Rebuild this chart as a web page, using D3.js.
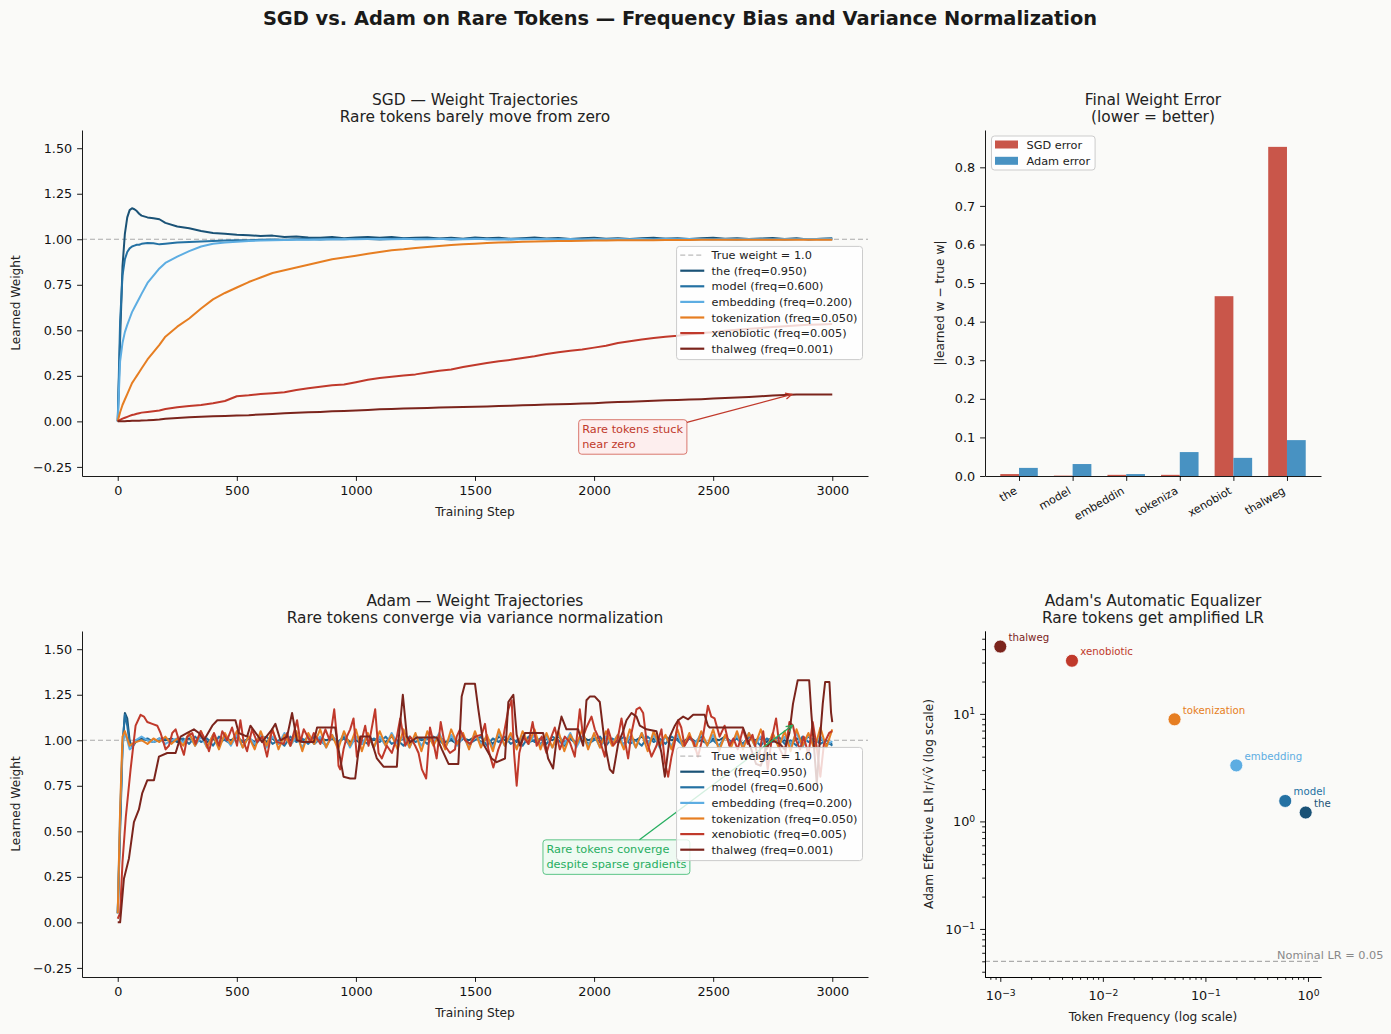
<!DOCTYPE html>
<html>
<head>
<meta charset="utf-8">
<script src="https://cdn.jsdelivr.net/npm/d3@7"></script>
<style>
  body { margin: 0; background: #fafaf8; }
  svg text { font-family: "DejaVu Sans", sans-serif; }
</style>
</head>
<body>
<svg id="chart" width="1391" height="1034"></svg>
<script>
// ---- data ----
var tokens = ["the", "model", "embedding", "tokenization", "xenobiotic", "thalweg"];
var freqs = [0.95, 0.6, 0.2, 0.05, 0.005, 0.001];
var tokenColors = ["#1a5276", "#2471a3", "#5dade2", "#e67e22", "#c0392b", "#7b241c"];

// SGD trajectories (sampled steps)
var sgdSteps = [0, 10, 20, 30, 40, 50, 60, 70, 80, 90, 100, 125, 150, 175].concat(d3.range(200, 3001, 50));
var sgdThe = [0, 0.45, 0.85, 1.03, 1.12, 1.16, 1.17, 1.165, 1.155, 1.14, 1.13, 1.12, 1.115, 1.11,
  1.090, 1.070, 1.060, 1.045, 1.035, 1.030, 1.025, 1.022, 1.018, 1.020,
  1.012, 1.015, 1.010, 1.008, 1.012, 1.005, 1.010, 1.013, 1.008, 1.012,
  1.005, 1.008, 1.010, 1.004, 1.008, 1.003, 1.010, 1.005, 1.008, 1.003,
  1.006, 1.010, 1.004, 1.007, 1.002, 1.006, 1.008, 1.003, 1.006, 1.001,
  1.005, 1.008, 1.003, 1.006, 1.002, 1.005, 1.008, 1.003, 1.006, 1.001,
  1.004, 1.007, 1.002, 1.005, 0.999, 1.003, 1.005];
var sgdModel = [0, 0.55, 0.80, 0.89, 0.93, 0.95, 0.96, 0.965, 0.97, 0.97, 0.975, 0.98, 0.978, 0.972,
  0.975, 0.982, 0.985, 0.988, 0.990, 0.993, 0.995, 0.994, 0.997, 0.999,
  0.998, 1.000, 1.001, 0.999, 1.002, 1.000, 1.003, 1.001, 0.999, 1.002,
  1.004, 1.000, 1.002, 1.003, 0.999, 1.001, 1.004, 1.000, 1.002, 0.999,
  1.003, 1.001, 1.000, 1.002, 0.998, 1.001, 1.003, 1.000, 1.001, 0.999,
  1.002, 1.000, 1.003, 1.001, 0.999, 1.001, 1.002, 1.000, 0.999, 1.002,
  1.000, 1.001, 0.999, 1.001, 1.002, 1.000, 1.000];
var sgdEmbedding = [0, 0.33, 0.43, 0.49, 0.53, 0.565, 0.60, 0.625, 0.65, 0.675, 0.70, 0.76, 0.80, 0.84,
  0.870, 0.905, 0.935, 0.960, 0.975, 0.982, 0.987, 0.990, 0.993, 0.995,
  0.996, 0.997, 0.998, 0.999, 1.000, 1.001, 1.000, 1.002, 1.001, 1.000,
  1.002, 1.001, 1.000, 1.002, 1.001, 1.000, 1.001, 1.002, 1.000, 1.001,
  1.000, 1.002, 1.001, 1.000, 1.001, 0.999, 1.001, 1.000, 1.002, 1.000,
  1.001, 0.999, 1.001, 1.000, 1.002, 1.000, 0.999, 1.001, 1.000, 1.002,
  1.000, 0.999, 1.001, 1.000, 1.002, 1.002, 1.003];
var sgdTokenization = [0, 0.05, 0.09, 0.12, 0.15, 0.18, 0.21, 0.23, 0.25, 0.27, 0.29, 0.34, 0.38, 0.42,
  0.465, 0.520, 0.565, 0.620, 0.670, 0.705, 0.735, 0.765, 0.790, 0.815,
  0.830, 0.845, 0.860, 0.875, 0.890, 0.900, 0.910, 0.920, 0.930, 0.940,
  0.945, 0.952, 0.958, 0.963, 0.968, 0.972, 0.976, 0.979, 0.982, 0.984,
  0.986, 0.988, 0.989, 0.990, 0.991, 0.992, 0.993, 0.993, 0.994, 0.994,
  0.995, 0.995, 0.996, 0.996, 0.996, 0.997, 0.997, 0.997, 0.997, 0.998,
  0.998, 0.998, 0.997, 0.998, 0.997, 0.997, 0.997];
var sgdXenobiotic = [0, 0.008, 0.015, 0.02, 0.025, 0.03, 0.035, 0.038, 0.042, 0.045, 0.048, 0.052, 0.056, 0.06,
  0.068, 0.078, 0.085, 0.090, 0.100, 0.112, 0.138, 0.143, 0.150, 0.155,
  0.160, 0.172, 0.182, 0.190, 0.198, 0.203, 0.215, 0.228, 0.238, 0.245,
  0.252, 0.258, 0.268, 0.278, 0.285, 0.298, 0.310, 0.320, 0.330, 0.338,
  0.348, 0.358, 0.370, 0.380, 0.388, 0.395, 0.405, 0.415, 0.430, 0.440,
  0.450, 0.458, 0.465, 0.470, 0.478, 0.485, 0.490, 0.497, 0.503, 0.508,
  0.513, 0.518, 0.522, 0.526, 0.530, 0.532, 0.534];
var sgdThalweg = [0, 0, 0, 0.001, 0.002, 0.002, 0.003, 0.003, 0.004, 0.004, 0.005, 0.006, 0.008, 0.01,
  0.015, 0.018, 0.022, 0.025, 0.028, 0.030, 0.032, 0.034, 0.038, 0.041,
  0.045, 0.048, 0.050, 0.052, 0.055, 0.057, 0.060, 0.063, 0.066, 0.068,
  0.070, 0.072, 0.074, 0.076, 0.078, 0.079, 0.080, 0.082, 0.084, 0.086,
  0.088, 0.090, 0.092, 0.094, 0.096, 0.098, 0.100, 0.103, 0.106, 0.108,
  0.111, 0.113, 0.116, 0.118, 0.120, 0.122, 0.125, 0.128, 0.131, 0.134,
  0.138, 0.142, 0.145, 0.147, 0.148, 0.148, 0.148];

// Adam trajectories
var adamSteps = [0, 10, 20, 30, 40, 50, 60, 75].concat(d3.range(100, 3001, 25));
var adamThe = [0.05, 0.5, 0.95, 1.15, 1.12, 1.0, 0.96, 0.99,
  1.01, 1.00, 0.99, 1.01, 1.00, 1.01, 0.99, 1.00,
  1.01, 0.99, 1.02, 0.99, 1.01, 0.98, 1.01, 1.00, 1.02, 0.99, 1.01, 0.99,
  1.02, 0.99, 1.01, 0.98, 1.02, 1.00, 1.01, 0.99, 1.02, 0.98, 1.01, 1.00,
  1.01, 0.99, 1.02, 0.99, 1.00, 0.98, 1.02, 1.00, 1.01, 0.99, 1.02, 0.99,
  1.01, 0.98, 1.02, 1.00, 1.01, 0.99, 1.02, 0.99, 1.00, 0.98, 1.01, 1.00,
  1.02, 0.99, 1.01, 0.98, 1.02, 1.00, 1.01, 0.99, 1.02, 0.99, 1.00, 0.98,
  1.01, 1.00, 1.02, 0.99, 1.01, 0.98, 1.02, 1.00, 1.01, 0.99, 1.02, 0.99,
  1.00, 0.98, 1.01, 1.00, 1.02, 0.99, 1.01, 0.98, 1.02, 1.00, 1.01, 0.99,
  1.02, 0.99, 1.00, 0.98, 1.01, 1.00, 1.02, 0.99, 1.01, 0.98, 1.02, 1.00,
  1.01, 0.99, 1.02, 0.99, 1.00, 0.98, 1.01, 1.00, 1.02, 0.99, 1.01, 0.98,
  0.98];
var adamModel = [0.05, 0.55, 0.98, 1.14, 1.08, 0.98, 0.97, 1.00,
  1.00, 1.01, 0.99, 1.00, 1.01, 0.99, 1.00, 1.01,
  0.98, 1.02, 0.99, 1.01, 0.97, 1.02, 1.00, 0.98, 1.02, 0.99, 1.01, 0.97,
  1.01, 1.02, 0.98, 1.00, 0.97, 1.02, 0.99, 1.01, 0.98, 1.02, 1.00, 0.97,
  1.02, 0.99, 1.01, 0.97, 1.02, 1.00, 0.98, 1.01, 0.99, 1.02, 0.98, 1.00,
  0.97, 1.02, 0.99, 1.01, 0.98, 1.02, 1.00, 0.97, 1.01, 0.99, 1.02, 0.98,
  1.00, 1.02, 0.97, 1.01, 0.99, 1.02, 0.98, 1.00, 0.97, 1.02, 0.99, 1.01,
  0.98, 1.02, 1.00, 0.97, 1.01, 0.99, 1.02, 0.98, 1.00, 1.02, 0.97, 1.01,
  0.99, 1.02, 0.98, 1.00, 0.97, 1.02, 0.99, 1.01, 0.98, 1.02, 1.00, 0.97,
  1.01, 0.99, 1.02, 0.98, 1.00, 0.97, 1.02, 0.99, 1.01, 0.98, 1.02, 1.00,
  0.97, 1.01, 0.99, 1.02, 0.98, 1.00, 0.97, 1.02, 0.99, 1.01, 0.98, 1.00,
  0.97];
var adamEmbedding = [0.05, 0.6, 0.97, 1.04, 1.0, 0.95, 0.96, 1.0,
  1.02, 1.00, 0.99, 1.01, 0.98, 1.00, 1.01, 0.99,
  1.03, 0.97, 1.02, 0.96, 1.03, 0.98, 1.02, 0.97, 1.03, 0.96, 1.02, 0.98,
  1.03, 0.96, 1.02, 0.98, 1.04, 0.97, 1.02, 0.96, 1.03, 0.98, 1.02, 0.96,
  1.03, 0.97, 1.04, 0.96, 1.02, 0.98, 1.03, 0.96, 1.02, 0.97, 1.04, 0.98,
  1.02, 0.96, 1.03, 0.97, 1.02, 0.98, 1.04, 0.96, 1.03, 0.97, 1.02, 0.96,
  1.03, 0.98, 1.02, 0.96, 1.04, 0.97, 1.03, 0.96, 1.02, 0.98, 1.03, 0.97,
  1.02, 0.96, 1.03, 0.98, 1.04, 0.96, 1.02, 0.97, 1.03, 0.96, 1.02, 0.98,
  1.03, 0.97, 1.02, 0.96, 1.04, 0.98, 1.03, 0.96, 1.02, 0.97, 1.03, 0.96,
  1.02, 0.98, 1.04, 0.97, 1.03, 0.96, 1.02, 0.98, 1.03, 0.96, 1.04, 0.97,
  1.02, 0.96, 1.03, 0.98, 1.02, 0.97, 1.04, 0.96, 1.03, 0.98, 1.02, 0.97,
  0.995];
var adamTokenization = [0.05, 0.62, 1.02, 1.05, 1.01, 0.97, 0.98, 0.99,
  1.00, 0.98, 1.01, 0.99, 1.02, 0.98, 1.01, 0.97,
  1.04, 0.97, 1.05, 0.96, 1.03, 0.95, 1.04, 0.98, 1.05, 0.96, 1.02, 0.95,
  1.05, 0.97, 1.06, 0.95, 1.03, 0.97, 1.05, 0.94, 1.04, 0.98, 1.06, 0.96,
  1.03, 0.95, 1.05, 0.97, 1.06, 0.94, 1.04, 0.96, 1.05, 0.97, 1.03, 0.95,
  1.06, 0.96, 1.04, 0.94, 1.05, 0.97, 1.03, 0.95, 1.06, 0.98, 1.04, 0.95,
  1.05, 0.96, 1.03, 0.94, 1.06, 0.97, 1.04, 0.95, 1.05, 0.98, 1.06, 0.95,
  1.04, 0.96, 1.05, 0.94, 1.03, 0.97, 1.06, 0.95, 1.04, 0.96, 1.05, 0.97,
  1.03, 0.95, 1.06, 0.96, 1.04, 0.94, 1.05, 0.97, 1.03, 0.95, 1.06, 0.96,
  1.04, 0.95, 1.05, 0.97, 1.06, 0.94, 1.03, 0.96, 1.05, 0.95, 1.04, 0.97,
  1.06, 0.95, 1.04, 0.96, 1.05, 0.94, 1.06, 0.97, 1.04, 0.95, 1.07, 0.96,
  1.06];
// sparse tokens: [step, weight]
var adamXenobiotic = [[0, 0.02], [10, 0.05], [20, 0.33], [34, 0.58], [54, 0.84], [75, 1.08], [96, 1.14], [110, 1.13],
  [124, 1.10], [145, 1.09], [166, 1.08], [180, 1.04], [201, 0.95], [215, 0.97], [229, 1.04], [243, 1.06], [257, 1.0],
  [278, 0.92], [292, 1.02], [313, 1.04], [327, 0.98], [348, 1.05], [369, 1.0], [383, 0.94], [404, 1.04], [425, 0.97],
  [439, 1.05], [459, 1.0], [480, 1.07], [501, 0.97], [515, 1.11], [529, 0.99], [543, 0.94], [564, 1.06], [585, 0.99],
  [606, 1.02], [627, 0.91], [648, 1.06], [669, 0.99], [697, 0.98], [711, 1.04], [725, 0.97], [753, 1.11], [767, 0.99],
  [781, 1.06], [809, 0.99], [823, 1.04], [851, 0.98], [872, 1.06], [890, 1.0], [909, 1.17], [920, 1.02], [927, 0.86],
  [934, 0.84], [948, 0.95], [962, 1.02], [976, 1.06], [990, 1.12], [1004, 0.91], [1018, 0.97], [1039, 1.08], [1053, 0.97],
  [1060, 1.02], [1081, 1.17], [1095, 0.93], [1109, 0.90], [1130, 0.97], [1151, 0.93], [1172, 1.02], [1186, 1.12],
  [1207, 0.97], [1228, 1.02], [1249, 0.97], [1263, 0.93], [1277, 0.84], [1295, 0.79], [1311, 1.07], [1325, 0.99],
  [1339, 0.90], [1356, 1.10], [1374, 0.97], [1395, 0.93], [1416, 0.95], [1423, 1.02], [1437, 1.06], [1458, 1.0],
  [1480, 0.98], [1500, 1.02], [1528, 1.03], [1542, 1.09], [1556, 0.95], [1577, 0.85], [1598, 0.95], [1619, 1.02],
  [1640, 1.17], [1654, 1.22], [1664, 0.93], [1675, 0.75], [1686, 0.93], [1703, 1.02], [1724, 0.98], [1742, 1.10],
  [1759, 0.97], [1780, 1.02], [1800, 0.93], [1821, 1.02], [1835, 1.07], [1856, 0.95], [1877, 1.02], [1898, 0.99],
  [1919, 0.91], [1940, 1.17], [1954, 1.02], [1968, 1.07], [1989, 1.13], [2003, 1.06], [2024, 1.0], [2045, 0.91],
  [2059, 1.06], [2080, 0.97], [2098, 1.0], [2115, 1.12], [2129, 1.0], [2143, 0.90], [2157, 1.04], [2178, 1.17],
  [2192, 1.18], [2206, 1.15], [2220, 1.0], [2241, 0.91], [2262, 0.97], [2283, 1.06], [2297, 0.88], [2311, 0.80],
  [2325, 0.91], [2339, 0.99], [2353, 1.11], [2366, 1.07], [2380, 0.97], [2401, 1.02], [2418, 0.99], [2436, 0.91],
  [2457, 1.02], [2478, 1.19], [2492, 1.13], [2506, 1.12], [2527, 1.02], [2548, 1.08], [2568, 0.97], [2585, 1.01],
  [2603, 0.95], [2625, 1.06], [2645, 0.98], [2665, 1.03], [2690, 0.90], [2710, 1.05], [2729, 0.84], [2745, 1.0],
  [2764, 1.12], [2780, 0.95], [2800, 0.90], [2820, 1.10], [2835, 1.08], [2848, 1.0], [2865, 0.95], [2880, 1.02],
  [2900, 0.92], [2918, 1.10], [2935, 0.96], [2950, 0.80], [2965, 0.98], [2987, 1.04], [3000, 1.05]];
var adamThalweg = [[0, 0], [10, 0], [26, 0.24], [47, 0.35], [68, 0.55], [89, 0.62], [103, 0.71], [124, 0.78], [152, 0.78],
  [173, 0.91], [208, 0.93], [243, 0.93], [264, 1.02], [292, 1.04], [320, 1.06], [341, 1.04], [362, 1.0], [397, 1.08],
  [418, 1.11], [494, 1.11], [508, 1.04], [543, 1.02], [557, 1.08], [585, 1.03], [606, 0.99], [648, 1.06], [662, 1.09],
  [683, 1.0], [711, 1.02], [732, 1.15], [752, 1.0], [780, 0.99], [823, 0.99], [837, 1.07], [913, 1.07], [927, 0.95],
  [948, 0.80], [976, 0.79], [997, 0.79], [1018, 1.02], [1060, 1.02], [1088, 0.90], [1116, 0.855], [1172, 0.855],
  [1179, 1.0], [1197, 1.25], [1214, 1.02], [1228, 0.99], [1256, 1.015], [1340, 1.015], [1361, 0.95], [1389, 0.87],
  [1430, 0.87], [1444, 1.24], [1458, 1.31], [1500, 1.31], [1514, 1.17], [1535, 0.98], [1570, 0.90], [1591, 0.88],
  [1626, 0.90], [1640, 1.21], [1661, 1.25], [1675, 1.03], [1689, 0.97], [1710, 1.04], [1786, 1.04], [1807, 0.90],
  [1828, 0.845], [1842, 1.0], [1863, 1.13], [1884, 1.06], [1933, 1.06], [1954, 0.97], [1968, 1.22], [1982, 1.24],
  [2003, 1.24], [2024, 1.21], [2045, 0.98], [2066, 0.84], [2080, 0.82], [2101, 0.98], [2122, 1.05], [2136, 1.11],
  [2157, 1.15], [2178, 1.13], [2192, 1.08], [2220, 1.06], [2262, 1.05], [2283, 0.93], [2297, 0.80], [2318, 1.02],
  [2339, 1.08], [2353, 1.11], [2374, 1.13], [2395, 1.115], [2416, 1.14], [2464, 1.14], [2478, 1.08], [2485, 1.07],
  [2625, 1.07], [2639, 1.02], [2660, 0.95], [2680, 0.87], [2700, 0.86], [2720, 0.95], [2745, 1.0], [2780, 0.98],
  [2800, 0.95], [2820, 1.04], [2835, 1.2], [2855, 1.33], [2903, 1.33], [2912, 1.15], [2924, 0.95], [2935, 0.76],
  [2945, 0.95], [2960, 1.2], [2970, 1.32], [2988, 1.32], [2995, 1.15], [3000, 1.1]];

// final error bars
var barLabels = ["the", "model", "embeddin", "tokeniza", "xenobiot", "thalweg"];
var sgdError = [0.005, 0.001, 0.003, 0.003, 0.466, 0.853];
var adamError = [0.021, 0.031, 0.005, 0.062, 0.047, 0.093];

// effective learning rate
var effectiveLR = [1.21, 1.55, 3.32, 8.9, 31.2, 42.3];
var nominalLR = 0.05;

var stepTicks = [0, 500, 1000, 1500, 2000, 2500, 3000];
var weightTicks = [-0.25, 0, 0.25, 0.5, 0.75, 1.0, 1.25, 1.5];
var errorTicks = [0, 0.1, 0.2, 0.3, 0.4, 0.5, 0.6, 0.7, 0.8];

// ---- drawing ----
var W = 1391, H = 1034;
var FONT = "DejaVu Sans, sans-serif";
var TICK_FS = 12.8, LABEL_FS = 12.2, LEGEND_FS = 11.3, TITLE_FS = 15.4;
var TICK_LEN = 4.9, TICK_PAD = 4.9;
var svg = d3.select("#chart");
svg.append("rect").attr("width", W).attr("height", H).attr("fill", "#fafaf8");

svg.append("text").attr("x", 680).attr("y", 25).attr("text-anchor", "middle")
  .attr("font-size", 19.4).attr("font-weight", "bold").attr("fill", "#1a1a1a")
  .text("SGD vs. Adam on Rare Tokens \u2014 Frequency Bias and Variance Normalization");

var boxes = {
  sgd:  {x0: 82, x1: 868, y0: 130, y1: 476},
  bar:  {x0: 985, x1: 1321, y0: 130, y1: 476},
  adam: {x0: 82, x1: 868, y0: 631, y1: 977},
  lr:   {x0: 985, x1: 1321, y0: 631, y1: 977}
};

function styleAxis(g) {
  g.attr("font-family", FONT).attr("font-size", TICK_FS);
  g.select(".domain").attr("stroke", "#000").attr("stroke-width", 0.9);
  g.selectAll(".tick line").attr("stroke", "#000").attr("stroke-width", 0.9);
  g.selectAll(".tick text").attr("fill", "#111");
}

function titles(box, l1, l2) {
  var cx = (box.x0 + box.x1) / 2;
  svg.append("text").attr("x", cx).attr("y", box.y0 - 25).attr("text-anchor", "middle")
    .attr("font-size", TITLE_FS).attr("fill", "#222").text(l1);
  svg.append("text").attr("x", cx).attr("y", box.y0 - 8).attr("text-anchor", "middle")
    .attr("font-size", TITLE_FS).attr("fill", "#222").text(l2);
}

function xLabel(box, txt, dy) {
  svg.append("text").attr("x", (box.x0 + box.x1) / 2).attr("y", box.y1 + dy).attr("text-anchor", "middle")
    .attr("font-size", LABEL_FS).attr("fill", "#222").text(txt);
}
function yLabel(box, x, txt) {
  var cy = (box.y0 + box.y1) / 2;
  svg.append("text").attr("transform", "translate(" + x + "," + cy + ") rotate(-90)")
    .attr("text-anchor", "middle").attr("font-size", LABEL_FS).attr("fill", "#222").text(txt);
}

function drawArrowNote(g, note, x, y, color, fill, edge) {
  var t = g.append("text").attr("x", x(note.at[0])).attr("y", y(note.at[1]))
    .attr("font-size", LEGEND_FS).attr("fill", color);
  note.text.forEach(function(s, i) {
    t.append("tspan").attr("x", x(note.at[0])).attr("dy", i === 0 ? 0 : 14.5).text(s);
  });
  var bb = t.node().getBBox(), pad = 3.5;
  var bx = bb.x - pad, by = bb.y - pad, bw = bb.width + 2 * pad, bh = bb.height + 2 * pad;
  g.insert("rect", "text").attr("x", bx).attr("y", by).attr("width", bw).attr("height", bh)
    .attr("rx", 3).attr("fill", fill).attr("stroke", edge).attr("stroke-width", 1);
  // arrow from the box edge toward the target point
  var cx = bx + bw / 2, cy = by + bh / 2;
  var tx = x(note.target[0]), ty = y(note.target[1]);
  var dx = tx - cx, dy = ty - cy;
  var s = Math.min((bw / 2) / Math.abs(dx), (bh / 2) / Math.abs(dy));
  var sx = cx + dx * s, sy = cy + dy * s;
  g.append("line").attr("x1", sx).attr("y1", sy).attr("x2", tx).attr("y2", ty)
    .attr("stroke", color).attr("stroke-width", 1.3);
  var ang = Math.atan2(ty - sy, tx - sx), hl = 7, hw = 0.45;
  g.append("path")
    .attr("d", "M" + (tx - hl * Math.cos(ang - hw)) + "," + (ty - hl * Math.sin(ang - hw)) +
      "L" + tx + "," + ty + "L" + (tx - hl * Math.cos(ang + hw)) + "," + (ty - hl * Math.sin(ang + hw)))
    .attr("fill", "none").attr("stroke", color).attr("stroke-width", 1.3);
}

function drawLegend(g, entries, rightX, centerY) {
  var lg = g.append("g");
  var rowH = 15.6, top = centerY - (entries.length * rowH + 4) / 2;
  var bg = lg.append("rect");
  var maxW = 0;
  entries.forEach(function(e, i) {
    var yy = top + 8.7 + i * rowH;
    lg.append("line").attr("x1", 3.7).attr("x2", 27.7).attr("y1", yy).attr("y2", yy)
      .attr("stroke", e.color).attr("stroke-width", e.width)
      .attr("stroke-dasharray", e.dash || null);
    var t = lg.append("text").attr("x", 35).attr("y", yy).attr("dy", "0.36em")
      .attr("font-size", LEGEND_FS).attr("fill", "#222").text(e.label);
    maxW = Math.max(maxW, t.node().getComputedTextLength());
  });
  var bw = 35 + maxW + 5;
  bg.attr("x", 0).attr("y", top).attr("width", bw).attr("height", entries.length * rowH + 4)
    .attr("rx", 3).attr("fill", "#fff").attr("fill-opacity", 0.8)
    .attr("stroke", "#cccccc").attr("stroke-width", 1);
  lg.attr("transform", "translate(" + (rightX - bw) + ",0)");
}

function trajectoryPanel(box, series, t1, t2, note, noteStyle) {
  var x = d3.scaleLinear().domain([-150, 3150]).range([box.x0, box.x1]);
  var y = d3.scaleLinear().domain([-0.3, 1.6]).range([box.y1, box.y0]);
  var g = svg.append("g");

  g.append("line").attr("x1", box.x0).attr("x2", box.x1).attr("y1", y(1)).attr("y2", y(1))
    .attr("stroke", "#aaaaaa").attr("stroke-width", 1).attr("stroke-dasharray", "5,3");

  var line = d3.line().x(function(d) { return x(d[0]); }).y(function(d) { return y(d[1]); });
  series.forEach(function(s, i) {
    g.append("path").attr("d", line(s)).attr("fill", "none")
      .attr("stroke", tokenColors[i]).attr("stroke-width", 2).attr("stroke-linejoin", "round");
  });

  g.append("g").attr("transform", "translate(0," + box.y1 + ")")
    .call(d3.axisBottom(x).tickValues(stepTicks).tickFormat(d3.format("d")).tickSize(TICK_LEN).tickPadding(TICK_PAD).tickSizeOuter(0))
    .call(styleAxis);
  g.append("g").attr("transform", "translate(" + box.x0 + ",0)")
    .call(d3.axisLeft(y).tickValues(weightTicks).tickFormat(d3.format(".2f")).tickSize(TICK_LEN).tickPadding(TICK_PAD).tickSizeOuter(0))
    .call(styleAxis);

  drawArrowNote(g.append("g"), note, x, y, noteStyle.color, noteStyle.fill, noteStyle.edge);

  var entries = [{label: "True weight = 1.0", color: "#aaaaaa", width: 1, dash: "5,3"}];
  tokens.forEach(function(t, i) {
    entries.push({label: t + " (freq=" + freqs[i].toFixed(3) + ")", color: tokenColors[i], width: 2.2});
  });
  drawLegend(g, entries, box.x1 - 5.5, (box.y0 + box.y1) / 2);

  titles(box, t1, t2);
  xLabel(box, "Training Step", 40);
  yLabel(box, 20, "Learned Weight");
}

function zip(steps, vals) { return vals.map(function(v, i) { return [steps[i], v]; }); }

var sgdSeries = [sgdThe, sgdModel, sgdEmbedding, sgdTokenization, sgdXenobiotic, sgdThalweg]
  .map(function(v) { return zip(sgdSteps, v); });
var adamSeries = [adamThe, adamModel, adamEmbedding, adamTokenization]
  .map(function(v) { return zip(adamSteps, v); })
  .concat([adamXenobiotic, adamThalweg]);

trajectoryPanel(boxes.sgd, sgdSeries, "SGD \u2014 Weight Trajectories", "Rare tokens barely move from zero",
  {text: ["Rare tokens stuck", "near zero"], at: [1950, -0.065], target: [2830, 0.148]},
  {color: "#c0392b", fill: "#fdeeee", edge: "#d9776d"});
trajectoryPanel(boxes.adam, adamSeries, "Adam \u2014 Weight Trajectories", "Rare tokens converge via variance normalization",
  {text: ["Rare tokens converge", "despite sparse gradients"], at: [1800, 0.379], target: [2833, 1.082]},
  {color: "#27ae60", fill: "#eefaf2", edge: "#5cc487"});

// ---- bar chart ----
(function() {
  var box = boxes.bar;
  var x = d3.scaleLinear().domain([-0.635, 5.635]).range([box.x0, box.x1]);
  var y = d3.scaleLinear().domain([0, 0.8967]).range([box.y1, box.y0]);
  var g = svg.append("g");
  var bw = 0.35;
  var sgdColor = "#c9564a", adamColor = "#4892c2";
  g.selectAll("rect.sgd").data(sgdError).enter().append("rect")
    .attr("x", function(d, i) { return x(i - bw); }).attr("width", x(bw) - x(0))
    .attr("y", function(d) { return y(d); }).attr("height", function(d) { return y(0) - y(d); })
    .attr("fill", sgdColor);
  g.selectAll("rect.adam").data(adamError).enter().append("rect")
    .attr("x", function(d, i) { return x(i); }).attr("width", x(bw) - x(0))
    .attr("y", function(d) { return y(d); }).attr("height", function(d) { return y(0) - y(d); })
    .attr("fill", adamColor);

  g.append("g").attr("transform", "translate(0," + box.y1 + ")")
    .call(d3.axisBottom(x).tickValues(d3.range(barLabels.length)).tickFormat("").tickSize(TICK_LEN).tickSizeOuter(0))
    .call(styleAxis);
  barLabels.forEach(function(l, i) {
    g.append("text").attr("transform", "translate(" + (x(i) - 5) + "," + (box.y1 + 10) + ") rotate(-30)")
      .attr("text-anchor", "end").attr("dy", "0.72em").attr("font-size", 11.1).attr("fill", "#111").text(l);
  });
  g.append("g").attr("transform", "translate(" + box.x0 + ",0)")
    .call(d3.axisLeft(y).tickValues(errorTicks).tickFormat(d3.format(".1f")).tickSize(TICK_LEN).tickPadding(TICK_PAD).tickSizeOuter(0))
    .call(styleAxis);

  // legend
  var lg = g.append("g").attr("transform", "translate(" + (box.x0 + 6.5) + "," + (box.y0 + 6) + ")");
  var lbg = lg.append("rect");
  var names = ["SGD error", "Adam error"], cols = [sgdColor, adamColor], mw = 0;
  names.forEach(function(n, i) {
    var yy = 8.5 + i * 16.3;
    lg.append("rect").attr("x", 3.5).attr("y", yy - 4).attr("width", 23).attr("height", 8).attr("fill", cols[i]);
    var t = lg.append("text").attr("x", 35).attr("y", yy).attr("dy", "0.36em")
      .attr("font-size", LEGEND_FS).attr("fill", "#222").text(n);
    mw = Math.max(mw, t.node().getComputedTextLength());
  });
  lbg.attr("width", 35 + mw + 5).attr("height", 34).attr("rx", 3).attr("fill", "#fff")
    .attr("fill-opacity", 0.8).attr("stroke", "#cccccc");

  titles(box, "Final Weight Error", "(lower = better)");
  yLabel(box, 944, "|learned w \u2212 true w|");
})();

// ---- effective LR scatter ----
(function() {
  var box = boxes.lr;
  var x = d3.scaleLog().domain([Math.pow(10, -3.149), Math.pow(10, 0.127)]).range([box.x0, box.x1]);
  var y = d3.scaleLog().domain([Math.pow(10, -1.447), Math.pow(10, 1.771)]).range([box.y1, box.y0]);
  var g = svg.append("g");

  g.append("line").attr("x1", box.x0).attr("x2", box.x1).attr("y1", y(nominalLR)).attr("y2", y(nominalLR))
    .attr("stroke", "#999999").attr("stroke-width", 1).attr("stroke-dasharray", "5,3");
  g.append("text").attr("x", x(0.5)).attr("y", y(nominalLR * 1.04)).attr("font-size", LEGEND_FS)
    .attr("fill", "#888888").text("Nominal LR = " + nominalLR);

  function sup(sel) {
    sel.each(function(d) {
      var t = d3.select(this), e = Math.round(Math.log10(d));
      t.text(null);
      t.append("tspan").text("10");
      t.append("tspan").attr("dy", "-0.45em").attr("font-size", "0.72em").text(e < 0 ? "\u2212" + (-e) : e);
    });
  }
  var minorX = [], minorY = [];
  [-4, -3, -2, -1, 0].forEach(function(p) {
    for (var k = 2; k <= 9; k++) {
      var v = k * Math.pow(10, p);
      if (v > x.domain()[0] && v < x.domain()[1]) minorX.push(v);
    }
  });
  [-2, -1, 0, 1].forEach(function(p) {
    for (var k = 2; k <= 9; k++) {
      var v = k * Math.pow(10, p);
      if (v > y.domain()[0] && v < y.domain()[1]) minorY.push(v);
    }
  });
  g.append("g").attr("transform", "translate(0," + box.y1 + ")")
    .call(d3.axisBottom(x).tickValues(minorX).tickFormat("").tickSize(2.8).tickSizeOuter(0)).call(styleAxis);
  g.append("g").attr("transform", "translate(" + box.x0 + ",0)")
    .call(d3.axisLeft(y).tickValues(minorY).tickFormat("").tickSize(2.8).tickSizeOuter(0)).call(styleAxis);
  var xa = g.append("g").attr("transform", "translate(0," + box.y1 + ")")
    .call(d3.axisBottom(x).tickValues([1e-3, 1e-2, 1e-1, 1]).tickSize(TICK_LEN).tickPadding(TICK_PAD).tickSizeOuter(0))
    .call(styleAxis);
  xa.selectAll(".tick text").attr("dy", "1.05em").call(sup);
  var ya = g.append("g").attr("transform", "translate(" + box.x0 + ",0)")
    .call(d3.axisLeft(y).tickValues([0.1, 1, 10]).tickSize(TICK_LEN).tickPadding(TICK_PAD).tickSizeOuter(0))
    .call(styleAxis);
  ya.selectAll(".tick text").call(sup);

  g.selectAll("circle").data(freqs).enter().append("circle")
    .attr("cx", function(d) { return x(d); })
    .attr("cy", function(d, i) { return y(effectiveLR[i]); })
    .attr("r", 6.5).attr("fill", function(d, i) { return tokenColors[i]; })
    .attr("stroke", "#ffffff").attr("stroke-width", 0.8);
  g.selectAll("text.lbl").data(freqs).enter().append("text")
    .attr("x", function(d) { return x(d) + 8.3; })
    .attr("y", function(d, i) { return y(effectiveLR[i]) - 5.6; })
    .attr("font-size", 10.2).attr("fill", function(d, i) { return tokenColors[i]; })
    .text(function(d, i) { return tokens[i]; });

  titles(box, "Adam's Automatic Equalizer", "Rare tokens get amplified LR");
  xLabel(box, "Token Frequency (log scale)", 44);
  yLabel(box, 933, "Adam Effective LR  lr/\u221Av\u0302  (log scale)");
})();
</script>
</body>
</html>
